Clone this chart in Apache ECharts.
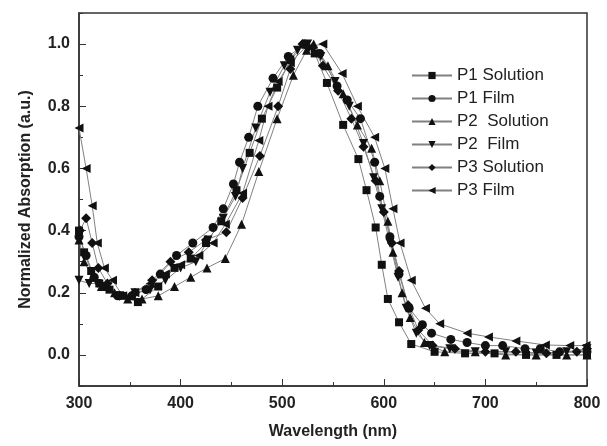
<!DOCTYPE html>
<html>
<head>
<meta charset="utf-8">
<script src="https://cdn.jsdelivr.net/npm/echarts@6/dist/echarts.min.js"></script>
<style>
html,body{margin:0;padding:0;background:#fff;}
#chart{width:607px;height:446px;}
</style>
</head>
<body>
<div id="chart"></div>
<script>
// wavelength (nm), normalized absorption
var p1Solution = [[300,0.40],[305,0.33],[312,0.27],[320,0.23],[330,0.21],[342,0.19],[358,0.17],[378,0.22],[394,0.28],[410,0.31],[425,0.36],[440,0.43],[455,0.53],[468,0.65],[480,0.76],[495,0.86],[508,0.95],[523,1.0],[532,0.97],[544,0.875],[560,0.74],[575,0.63],[583,0.53],[592,0.41],[598,0.29],[604,0.18],[615,0.105],[627,0.035],[650,0.01],[680,0.005],[709,0.005],[740,0.0],[770,0.0],[800,0.0]];
var p1Film = [[300,0.38],[307,0.32],[315,0.25],[325,0.22],[338,0.19],[352,0.19],[366,0.21],[380,0.26],[396,0.32],[412,0.36],[432,0.41],[442,0.47],[452,0.55],[458,0.62],[467,0.70],[476,0.80],[491,0.89],[506,0.96],[522,1.0],[537,0.97],[554,0.865],[564,0.82],[577,0.76],[591,0.62],[596,0.51],[606,0.38],[615,0.26],[625,0.15],[638,0.097],[647,0.07],[666,0.05],[682,0.04],[700,0.03],[717,0.03],[739,0.02],[754,0.02],[773,0.01],[800,0.01]];
var p2Solution = [[300,0.37],[305,0.30],[313,0.25],[322,0.22],[335,0.20],[348,0.18],[362,0.18],[378,0.19],[394,0.22],[410,0.25],[426,0.28],[444,0.31],[460,0.42],[477,0.59],[495,0.76],[511,0.90],[524,0.98],[531,1.0],[545,0.93],[560,0.84],[574,0.74],[588,0.665],[596,0.56],[604,0.43],[609,0.33],[618,0.20],[626,0.12],[640,0.04],[660,0.01],[690,0.01],[720,0.0],[750,0.0],[780,0.0],[800,0.0]];
var p2Film = [[300,0.24],[310,0.23],[318,0.23],[328,0.22],[340,0.19],[355,0.20],[370,0.21],[385,0.24],[400,0.28],[415,0.30],[427,0.37],[442,0.44],[454,0.51],[461,0.60],[474,0.73],[488,0.845],[502,0.93],[515,0.98],[525,1.0],[538,0.96],[552,0.88],[566,0.80],[580,0.68],[590,0.57],[598,0.47],[606,0.36],[614,0.25],[622,0.15],[632,0.07],[645,0.03],[665,0.02],[690,0.01],[720,0.01],[750,0.005],[780,0.01],[800,0.02]];
var p3Solution = [[301,0.40],[307,0.44],[313,0.36],[319,0.28],[328,0.23],[340,0.19],[355,0.20],[372,0.24],[390,0.30],[408,0.33],[425,0.37],[445,0.395],[461,0.505],[478,0.64],[496,0.80],[508,0.92],[520,1.0],[530,0.99],[540,0.93],[555,0.85],[568,0.76],[580,0.67],[592,0.56],[600,0.46],[608,0.36],[615,0.27],[624,0.16],[634,0.08],[648,0.03],[670,0.02],[700,0.01],[730,0.01],[760,0.005],[790,0.01],[800,0.02]];
var p3Film = [[300,0.73],[307,0.60],[313,0.48],[318,0.36],[325,0.28],[333,0.24],[343,0.19],[355,0.20],[370,0.23],[385,0.26],[400,0.29],[418,0.32],[432,0.36],[444,0.42],[461,0.52],[477,0.69],[486,0.80],[496,0.88],[508,0.94],[523,0.99],[540,1.0],[559,0.905],[574,0.80],[591,0.70],[601,0.60],[609,0.47],[616,0.36],[627,0.24],[641,0.15],[655,0.10],[682,0.07],[703,0.058],[730,0.045],[759,0.032],[783,0.03],[799,0.03]];

var seriesNames = ['P1 Solution','P1 Film','P2  Solution','P2  Film','P3 Solution','P3 Film'];
var seriesData = [p1Solution,p1Film,p2Solution,p2Film,p3Solution,p3Film];
var seriesSymbols = ['rect','circle','triangle','path://M0,0L10,0L5,9Z','diamond','path://M9,0L9,10L0,5Z'];
var seriesSizes = [8,9,9,9,10,9];
var yLabelValues = [0,0.2,0.4,0.6,0.8,1.0];

var chart = echarts.init(document.getElementById('chart'));
var font = 'Liberation Sans, Arial, sans-serif';

var series = [];
for(var i=0;i<seriesNames.length;i++){
	series.push({
		name:seriesNames[i],
		type:'line',
		data:seriesData[i],
		symbol:seriesSymbols[i],
		symbolSize:seriesSizes[i],
		showAllSymbol:true,
		itemStyle:{color:'#111'},
		lineStyle:{color:'#808080',width:1},
		emphasis:{disabled:true}
	});
}

var option = {
	animation:false,
	grid:{left:79,right:20,top:13,bottom:60,show:true,borderColor:'#333',borderWidth:1.5},
	legend:{
		orient:'vertical',
		left:406,
		top:62,
		itemWidth:40,
		itemHeight:9,
		itemGap:6,
		data:seriesNames,
		textStyle:{fontFamily:font,fontSize:17,color:'#222'}
	},
	xAxis:{
		type:'value',
		min:300,max:800,interval:100,
		name:'Wavelength (nm)',
		nameLocation:'middle',
		nameGap:38,
		nameTextStyle:{fontFamily:font,fontSize:16,fontWeight:'bold',color:'#222'},
		axisLine:{onZero:false,lineStyle:{color:'#333',width:1.5}},
		axisTick:{inside:true,length:7,lineStyle:{color:'#333'}},
		minorTick:{show:true,splitNumber:2,length:4,lineStyle:{color:'#333'}},
		splitLine:{show:false},
		axisLabel:{fontFamily:font,fontSize:16,fontWeight:'bold',color:'#222',margin:10}
	},
	yAxis:[{
		type:'value',
		min:-0.1,max:1.1,interval:0.1,
		name:'Normalized Absorption (a.u.)',
		nameLocation:'middle',
		nameGap:45,
		nameTextStyle:{fontFamily:font,fontSize:16,fontWeight:'bold',color:'#222'},
		axisLine:{onZero:false,lineStyle:{color:'#333',width:1.5}},
		axisTick:{inside:true,length:4,lineStyle:{color:'#333'}},
		splitLine:{show:false},
		axisLabel:{customValues:yLabelValues,fontFamily:font,fontSize:16,fontWeight:'bold',color:'#222',margin:9,
			formatter:function(v){return v.toFixed(1);}}
	},{
		type:'value',
		min:-0.1,max:1.1,interval:0.1,
		position:'left',
		axisLine:{show:false,onZero:false},
		axisTick:{show:true,inside:true,length:7,customValues:yLabelValues,lineStyle:{color:'#333'}},
		axisLabel:{show:false},
		splitLine:{show:false}
	}],
	series:series
};
chart.setOption(option);
</script>
</body>
</html>
